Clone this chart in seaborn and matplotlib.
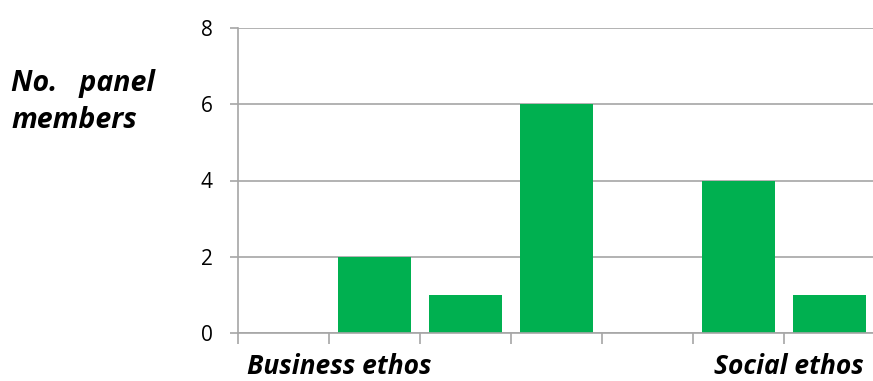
import matplotlib
matplotlib.use("Agg")
import matplotlib.pyplot as plt
import seaborn as sns
import pandas as pd

categories = ["1", "2", "3", "4", "5", "6", "7"]
values = [0, 2, 1, 6, 0, 4, 1]
y_ticks = [0, 2, 4, 6, 8]
left_label = "Business ethos"
right_label = "Social ethos"
y_label_lines = ["No.   panel", "members"]

sns.set_theme(style="white")
plt.rcParams['font.family'] = ['Open Sans', 'DejaVu Sans']
plt.rcParams['text.color'] = 'black'

df = pd.DataFrame({"cat": categories, "val": values})
fig = plt.figure(figsize=(8.73, 3.81), dpi=100)
ax = fig.add_axes([238/873, 1-333/381, (875-238)/873, (333-28)/381])
sns.barplot(data=df, x="cat", y="val", color="#00B050", saturation=1, width=0.8,
            linewidth=0, edgecolor="none", ax=ax)

grey = "#A6A6A6"
ax.set_xlim(-0.5, 6.5)
ax.set_ylim(0, 8)
ax.set_yticks(y_ticks)
ax.set_xticks([i - 0.5 for i in range(8)])
ax.set_xticklabels([])
ax.set_xlabel("")
ax.set_ylabel("")
ax.yaxis.grid(True, color=grey, linewidth=1.2)
ax.set_axisbelow(True)
for s in ["top", "right"]:
    ax.spines[s].set_visible(False)
for s in ["left", "bottom"]:
    ax.spines[s].set_color(grey)
    ax.spines[s].set_linewidth(1.2)
ax.tick_params(axis="x", direction="out", length=8, width=1.2, color=grey, bottom=True)
ax.tick_params(axis="y", direction="out", length=6, width=1.2, color=grey, left=True,
               labelsize=15, pad=12, labelcolor="black")

fs = 19
fig.text(339/873, 1-367/381, left_label, ha="center", va="center",
         fontsize=fs, fontweight="bold", fontstyle="italic", color="black")
fig.text(789/873, 1-367/381, right_label, ha="center", va="center",
         fontsize=fs, fontweight="bold", fontstyle="italic", color="black")
fig.text(11/873, 1-83/381, y_label_lines[0], ha="left", va="center",
         fontsize=20.5, fontweight="bold", fontstyle="italic", color="black")
fig.text(11/873, 1-120/381, y_label_lines[1], ha="left", va="center",
         fontsize=20.5, fontweight="bold", fontstyle="italic", color="black")

fig.savefig("out.png", dpi=100)
